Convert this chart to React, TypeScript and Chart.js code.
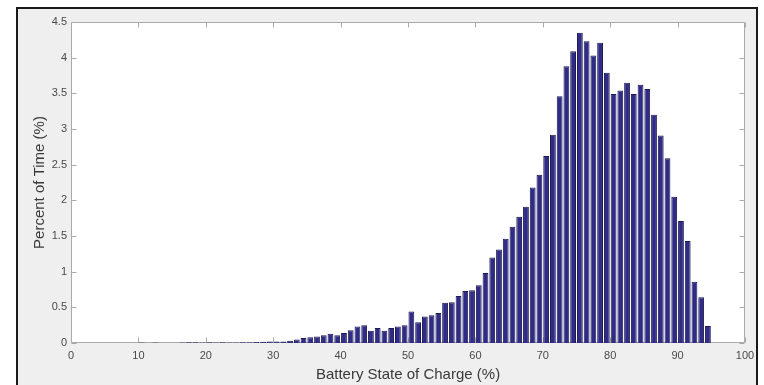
import React, { useEffect, useRef } from 'react';
import { Chart, registerables } from 'chart.js';

Chart.register(...registerables);

// Histogram bins: width 1 %, first bin starts at 0 %
const binStart = 0;
const binWidth = 1;

// Percent of time in each 1 % state-of-charge bin (bins 0-1 ... 94-95)
const percentOfTime: number[] = [
  // 0 - 9
  0, 0, 0, 0, 0, 0, 0, 0, 0, 0,
  // 10 - 19
  0.008, 0, 0.006, 0, 0, 0, 0.008, 0.01, 0.01, 0.006,
  // 20 - 29
  0.01, 0.006, 0.01, 0.008, 0.006, 0.01, 0.012, 0.015, 0.018, 0.02,
  // 30 - 39
  0.02, 0.02, 0.03, 0.05, 0.07, 0.08, 0.09, 0.11, 0.13, 0.11,
  // 40 - 49
  0.14, 0.18, 0.23, 0.25, 0.17, 0.21, 0.17, 0.21, 0.23, 0.25,
  // 50 - 59
  0.44, 0.29, 0.37, 0.39, 0.42, 0.565, 0.57, 0.66, 0.73, 0.74,
  // 60 - 69
  0.81, 0.98, 1.2, 1.31, 1.46, 1.63, 1.77, 1.91, 2.18, 2.36,
  // 70 - 79
  2.62, 2.92, 3.46, 3.88, 4.09, 4.35, 4.23, 4.03, 4.21, 3.79,
  // 80 - 89
  3.49, 3.54, 3.65, 3.49, 3.62, 3.56, 3.2, 2.91, 2.59, 2.05,
  // 90 - 94
  1.71, 1.43, 0.86, 0.64, 0.24,
];

const xTickValues = [0, 10, 20, 30, 40, 50, 60, 70, 80, 90, 100];
const xTickLabels = ['0', '10', '20', '30', '40', '50', '60', '70', '80', '90', '100'];
const yTickValues = [0, 0.5, 1, 1.5, 2, 2.5, 3, 3.5, 4, 4.5];
const yTickLabels = ['0', '0.5', '1', '1.5', '2', '2.5', '3', '3.5', '4', '4.5'];

const xTitle = 'Battery State of Charge (%)';
const yTitle = 'Percent of Time (%)';

const FONT = "'Liberation Sans', Arial, Helvetica, sans-serif";

export default function App() {
  const canvasRef = useRef<HTMLCanvasElement | null>(null);

  useEffect(() => {
    const canvas = canvasRef.current;
    if (!canvas) return;

    const points = percentOfTime.map((v, i) => ({
      x: binStart + binWidth * i + binWidth / 2,
      y: v,
    }));

    const axesBox = {
      id: 'axesBox',
      beforeDraw(chart: any) {
        const { ctx, chartArea: a } = chart;
        ctx.save();
        ctx.fillStyle = '#ffffff';
        ctx.fillRect(a.left, a.top, a.right - a.left, a.bottom - a.top);
        ctx.restore();
      },
      beforeDatasetsDraw(chart: any) {
        const { ctx, chartArea: a, scales } = chart;
        const len = 5;
        ctx.save();
        ctx.strokeStyle = '#a9a9a9';
        ctx.lineWidth = 1;
        const L = Math.round(a.left) + 0.5;
        const R = Math.round(a.right) - 0.5;
        const T = Math.round(a.top) + 0.5;
        const B = Math.round(a.bottom) - 0.5;
        ctx.beginPath();
        ctx.moveTo(L, T);
        ctx.lineTo(R, T);
        ctx.lineTo(R, B);
        ctx.lineTo(L, B);
        ctx.closePath();
        xTickValues.forEach((v) => {
          const px = Math.round(scales.x.getPixelForValue(v)) + 0.5;
          ctx.moveTo(px, B);
          ctx.lineTo(px, B - len);
          ctx.moveTo(px, T);
          ctx.lineTo(px, T + len);
        });
        yTickValues.forEach((v) => {
          const py = Math.round(scales.y.getPixelForValue(v)) + 0.5;
          ctx.moveTo(L, py);
          ctx.lineTo(L + len, py);
          ctx.moveTo(R, py);
          ctx.lineTo(R - len, py);
        });
        ctx.stroke();
        ctx.restore();
      },
    };

    const chart = new Chart(canvas, {
      type: 'bar',
      data: {
        datasets: [
          {
            data: points as any,
            backgroundColor: '#302b86',
            borderColor: '#1d1a52',
            borderWidth: 1,
            barPercentage: 0.86,
            categoryPercentage: 1,
          },
        ],
      },
      plugins: [axesBox],
      options: {
        animation: false,
        responsive: false,
        maintainAspectRatio: false,
        layout: { padding: { left: 0, top: 22, right: 19, bottom: 0 } },
        plugins: {
          legend: { display: false },
          tooltip: { enabled: false },
        },
        scales: {
          x: {
            type: 'linear',
            min: 0,
            max: 100,
            offset: false,
            afterFit: (scale: any) => {
              scale.height = 42;
            },
            afterBuildTicks: (scale: any) => {
              scale.ticks = xTickValues.map((v) => ({ value: v }));
            },
            grid: { display: false, drawTicks: false },
            border: { display: false },
            ticks: {
              padding: 6,
              maxRotation: 0,
              autoSkip: false,
              color: '#4a4a4a',
              font: { family: FONT, size: 11 },
              callback: (_v: any, i: number) => xTickLabels[i],
            },
            title: {
              display: true,
              text: xTitle,
              color: '#3a3a3a',
              font: { family: FONT, size: 15 },
              padding: { top: 0, bottom: 1 },
            },
          },
          y: {
            type: 'linear',
            min: 0,
            max: 4.5,
            afterFit: (scale: any) => {
              scale.width = 71;
            },
            afterBuildTicks: (scale: any) => {
              scale.ticks = yTickValues.map((v) => ({ value: v }));
            },
            grid: { display: false, drawTicks: false },
            border: { display: false },
            ticks: {
              padding: 4,
              autoSkip: false,
              color: '#4a4a4a',
              font: { family: FONT, size: 11 },
              callback: (_v: any, i: number) => yTickLabels[i],
            },
            title: {
              display: true,
              text: yTitle,
              color: '#3a3a3a',
              font: { family: FONT, size: 15 },
              padding: { top: 31, bottom: 0 },
            },
          },
        },
      } as any,
    });

    return () => {
      chart.destroy();
    };
  }, []);

  return (
    <div
      style={{
        position: 'fixed',
        left: 0,
        top: 0,
        width: 764,
        height: 385,
        overflow: 'hidden',
        background: '#ffffff',
      }}
    >
      <div
        style={{
          position: 'absolute',
          left: 16,
          top: 7,
          width: 742,
          height: 400,
          boxSizing: 'border-box',
          border: '2px solid #1a1a1a',
          background: '#efefef',
        }}
      />
      <canvas
        ref={canvasRef}
        width={764}
        height={385}
        style={{ position: 'absolute', left: 0, top: 0, width: 764, height: 385 }}
      />
    </div>
  );
}
